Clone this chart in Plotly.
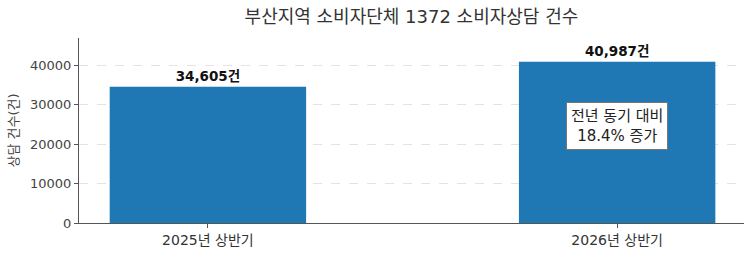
import plotly.graph_objects as go

categories = ["2025년 상반기", "2026년 상반기"]
values = [34605, 40987]
value_labels = ["34,605건", "40,987건"]
change_text = "전년 동기 대비<br>18.4% 증가"
title_text = "부산지역 소비자단체 1372 소비자상담 건수"
y_title = "상담 건수(건)"
y_ticks = [0, 10000, 20000, 30000, 40000]
y_ticktext = ["0", "10000", "20000", "30000", "40000"]

FONT = "DejaVu Sans, Noto Sans CJK KR"

fig = go.Figure()
fig.add_trace(go.Bar(
    x=categories, y=values, width=0.48,
    marker=dict(color="#1f77b4", line=dict(width=0)),
    text=value_labels, textposition="outside",
    textfont=dict(family=FONT, size=13.5, color="#111111", weight="bold"),
    cliponaxis=False,
))

fig.add_annotation(
    x=categories[1], y=values[1] * 0.6, xref="x", yref="y",
    text=change_text, showarrow=False,
    font=dict(family=FONT, size=15, color="#222222"),
    bgcolor="white", bordercolor="#777777", borderwidth=1, borderpad=4,
    align="center",
)

fig.update_layout(
    width=744, height=272,
    margin=dict(l=79, r=0, t=38, b=49),
    paper_bgcolor="white", plot_bgcolor="white",
    font=dict(family=FONT, size=13, color="#444444"),
    title=dict(text=title_text, x=0.553, xanchor="center", y=0.94, yanchor="middle",
               font=dict(family=FONT, size=18, color="#333333")),
    showlegend=False,
    xaxis=dict(range=[-0.315, 1.31], showline=True, linecolor="#555555", linewidth=1,
               ticks="outside", ticklen=4, tickcolor="#555555",
               tickfont=dict(family=FONT, size=14, color="#333333")),
    yaxis=dict(range=[0, 47000], tickvals=y_ticks, ticktext=y_ticktext, showline=True,
               linecolor="#555555", linewidth=1, ticks="outside", ticklen=4, tickcolor="#555555",
               showgrid=True, gridcolor="#e3e3e3", griddash="dash", gridwidth=1,
               zeroline=False,
               title=dict(text=y_title, font=dict(family=FONT, size=13, color="#444444"), standoff=8),
               tickfont=dict(family=FONT, size=13, color="#444444")),
)

fig.write_html("out.html")
